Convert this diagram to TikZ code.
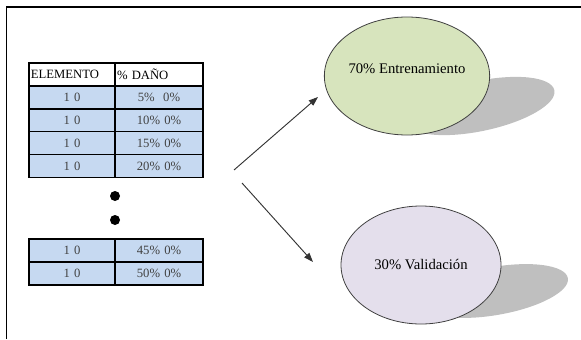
\documentclass[tikz,border=0pt]{standalone}
\usepackage{fontspec}
\setmainfont{Liberation Serif}
\usetikzlibrary{shapes.geometric,arrows.meta}
\definecolor{celda}{HTML}{C6D9F1}
\definecolor{verde}{HTML}{D7E4BD}
\definecolor{lila}{HTML}{E4DFEC}
\definecolor{sombra}{HTML}{BFBFBF}
\definecolor{texto}{HTML}{404040}
\begin{document}
\begin{tikzpicture}[x=0.75pt,y=-0.75pt,
  cell/.style={draw,line width=1pt,fill=celda,text=texto,font=\fontsize{9.5}{11}\selectfont,
    inner xsep=1.5pt,inner ysep=0pt,minimum height=17.25pt,align=center,outer sep=0pt},
  lcol/.style={cell,text width=61.5pt},
  rcol/.style={cell,text width=63pt},
  head/.style={fill=white,text=black,align=left},
  oval/.style={ellipse,draw=black!75,line width=0.6pt,minimum width=120pt,minimum height=88.5pt,
    inner sep=0pt,font=\fontsize{11}{13}\selectfont},
  punto/.style={circle,fill=black,inner sep=0pt,minimum size=7.5pt},
  flecha/.style={-{Triangle[length=7pt,width=5pt]},line width=0.7pt,draw=black!80}]
  \useasboundingbox (0,0) rectangle (581,339);
  % 外框
  \draw[line width=1pt] (6.5,339) -- (6.5,7) -- (581,7);
  % 表头
  \node[lcol,head] (e0) at (72,74.5) {ELEMENTO};
  \node[rcol,head] (d0) at (159,74.5) {\% DAÑO};
  % 表格第一部分
  \node[lcol] (e1) at (72,97.5) {1 0};
  \node[rcol] (d1) at (159,97.5) {5\%\ \ 0\%};
  \node[lcol] (e2) at (72,120.5) {1 0};
  \node[rcol] (d2) at (159,120.5) {10\% 0\%};
  \node[lcol] (e3) at (72,143) {1 0};
  \node[rcol] (d3) at (159,143) {15\% 0\%};
  \node[lcol] (e4) at (72,166) {1 0};
  \node[rcol] (d4) at (159,166) {20\% 0\%};
  % 省略号
  \node[punto] (p1) at (115,196) {};
  \node[punto] (p2) at (115,220) {};
  % 表格第二部分
  \node[lcol] (e5) at (72,250.5) {1 0};
  \node[rcol] (d5) at (159,250.5) {45\% 0\%};
  \node[lcol] (e6) at (72,273.5) {1 0};
  \node[rcol] (d6) at (159,273.5) {50\% 0\%};
  % 阴影
  \fill[sombra,rotate around={12:(480,106)}] (480,106) ellipse [x radius=76, y radius=25];
  \fill[sombra,rotate around={10:(495,291)}] (495,291) ellipse [x radius=74, y radius=24];
  % 椭圆
  \node[oval,fill=verde,text depth=11pt] (ent) at (407,76) {70\% Entrenamiento};
  \node[oval,fill=lila] (val) at (421,265) {30\% Validación};
  % 箭头
  \coordinate (a1) at (234,170);
  \coordinate (b1) at (318,97);
  \coordinate (a2) at (242,183);
  \coordinate (b2) at (313,262);
  \draw[flecha] (a1) -- (b1);
  \draw[flecha] (a2) -- (b2);
\end{tikzpicture}
\end{document}
